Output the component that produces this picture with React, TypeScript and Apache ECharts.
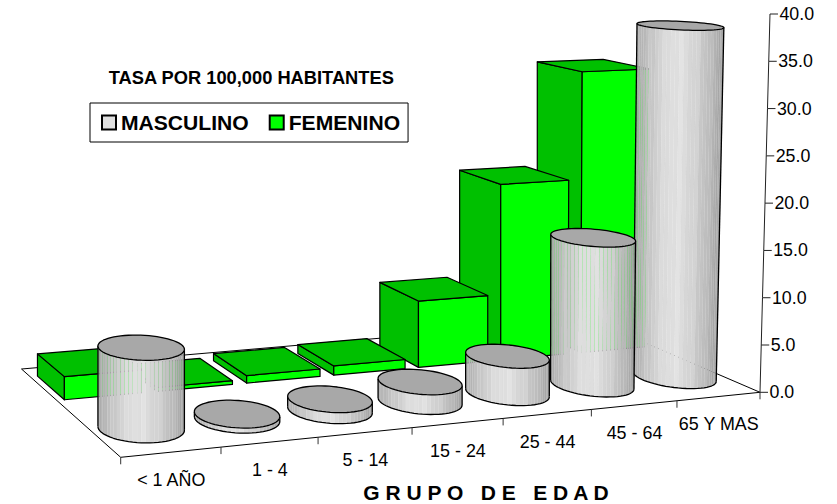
import React, { useEffect, useRef } from "react";
import * as echarts from "echarts";

const categories = ["< 1 AÑO", "1 - 4", "5 - 14", "15 - 24", "25 - 44", "45 - 64", "65 Y MAS"];
const masculino = [8.0, 0.5, 1.1, 2.0, 3.85, 15.7, 38.1];
const femenino = [2.4, 0.4, 0.8, 1.0, 7.3, 19.6, 31.8];
const tickValues = [0, 5, 10, 15, 20, 25, 30, 35, 40];
const tickLabels = ["0.0", "5.0", "10.0", "15.0", "20.0", "25.0", "30.0", "35.0", "40.0"];

const FONT = '"Liberation Sans", Arial, sans-serif';
const GRID = { left: 120.7, top: 14, width: 639.3, height: 378.3 };
// floor homography (front-left, front-right, back-left corners + perspective terms)
const F = [120.7, 457.3];
const R = [760, 392.3];
const B = [21.5, 369];
const G = 0.1165;
const H = 0.155;
const DREF = 1 + G;
const XV = 540;
const KX = 0.001136;

function floor(U: number, W: number) {
  const a = R[0] - F[0] + G * R[0];
  const b = B[0] - F[0] + H * B[0];
  const d = R[1] - F[1] + G * R[1];
  const e = B[1] - F[1] + H * B[1];
  const D = 1 + G * U + H * W;
  return { x: (a * U + b * W + F[0]) / D, y: (d * U + e * W + F[1]) / D, D };
}

function project(api: any, u: number, w: number, v: number) {
  const U = (api.coord([u, 0])[0] - GRID.left) / GRID.width;
  const base = api.coord([0, 0])[1];
  const lift = base - api.coord([0, v])[1];
  const p = floor(U, w);
  const x = p.x > XV ? XV + (p.x - XV) * (1 + KX * v) : p.x;
  return [x, p.y - (lift * DREF) / p.D];
}

const line = (pts: number[][], lineWidth = 1.1, stroke = "#000") => ({
  type: "polyline",
  shape: { points: pts },
  style: { fill: "none", stroke, lineWidth, lineJoin: "round" },
  silent: true,
});
const poly = (pts: number[][], fill: string, stroke: any = "#000", lineWidth = 1.2) => ({
  type: "polygon",
  shape: { points: pts },
  style: { fill, stroke, lineWidth, lineJoin: "round" },
  silent: true,
});

function renderFloor(_p: any, api: any) {
  const i = api.value(0);
  const kids: any[] = [];
  if (i === 0) {
    const a = project(api, 0, 0, 0);
    const b = project(api, 7, 0, 0);
    const c = project(api, 7, 1, 0);
    const d = project(api, 0, 1, 0);
    kids.push(poly([a, b, c, d], "#fff", "#000", 1));
  }
  const t = project(api, i, 0, 0);
  kids.push(line([t, [t[0], t[1] + 7]], 1, "#333"));
  if (i === 6) {
    const t2 = project(api, 7, 0, 0);
    kids.push(line([t2, [t2[0], t2[1] + 7]], 1, "#333"));
  }
  const m = project(api, i + 0.5, 0, 0);
  kids.push({
    type: "text",
    silent: true,
    style: {
      x: m[0],
      y: m[1] + 28,
      text: categories[i],
      fill: "#000",
      font: `17.9px ${FONT}`,
      align: "center",
      verticalAlign: "middle",
    },
  });
  return { type: "group", children: kids };
}

function renderAxis(_p: any, api: any) {
  const v = api.value(1);
  const i = api.value(0);
  const p = project(api, 7, 0, v);
  const kids: any[] = [line([p, [p[0] + 8, p[1]]], 1, "#222")];
  if (i < tickValues.length - 1) {
    kids.push(line([p, project(api, 7, 0, tickValues[i + 1])], 1, "#222"));
  }
  kids.push({
    type: "text",
    silent: true,
    style: {
      x: p[0] + 9.5,
      y: p[1],
      text: tickLabels[i],
      fill: "#000",
      font: `17.8px ${FONT}`,
      align: "left",
      verticalAlign: "middle",
    },
  });
  return { type: "group", children: kids };
}

function renderBar(_p: any, api: any) {
  const i = api.value(0);
  const v = api.value(1);
  const [u0, u1, w0, w1] = [i + 0.08, i + 0.92, 0.61, 0.9];
  const P = (u: number, w: number, h: number) => project(api, u, w, h);
  return {
    type: "group",
    children: [
      poly([P(u0, w1, 0), P(u0, w0, 0), P(u0, w0, v), P(u0, w1, v)], "#00C000"),
      poly([P(u0, w0, 0), P(u1, w0, 0), P(u1, w0, v), P(u0, w0, v)], "#00FF00"),
      poly([P(u0, w0, v), P(u1, w0, v), P(u1, w1, v), P(u0, w1, v)], "#00C000"),
    ],
  };
}

function renderCyl(_p: any, api: any) {
  const i = api.value(0);
  const v = api.value(1);
  const N = 64;
  const ru = 0.41 - 0.0017 * i;
  const rw = 0.15;
  const uc = i + 0.49 + 0.003 * i;
  const wc = 0.25;
  const base: number[][] = [];
  const top: number[][] = [];
  for (let k = 0; k < N; k++) {
    const t = (k / N) * Math.PI * 2;
    const u = uc + ru * Math.cos(t);
    const w = wc + rw * Math.sin(t);
    base.push(project(api, u, w, 0));
    top.push(project(api, u, w, v));
  }
  let li = 0;
  let ri = 0;
  base.forEach((p, k) => {
    if (p[0] < base[li][0]) li = k;
    if (p[0] > base[ri][0]) ri = k;
  });
  // walk from the leftmost point through the near side (sin t < 0) to the rightmost
  const arc: number[] = [];
  let k = li;
  for (let n = 0; n <= N; n++) {
    arc.push(k);
    if (k === ri) break;
    k = (k + 1) % N;
  }
  const kids: any[] = [];
  const xl = base[li][0];
  const xr = base[ri][0];
  for (let n = 0; n < arc.length - 1; n++) {
    const a = arc[n];
    const b = arc[n + 1];
    const s = (((base[a][0] + base[b][0]) / 2 - xl) / (xr - xl)) * 2 - 1;
    const wob = n % 4 === 0 ? 4 : n % 3 === 0 ? -2 : 0;
    const g = Math.round(224 - 58 * Math.pow(Math.abs(s + 0.05), 1.6) + wob);
    const c = `rgb(${g},${g},${g})`;
    kids.push({
      type: "polygon",
      shape: { points: [base[a], base[b], top[b], top[a]] },
      style: { fill: c, stroke: c, strokeOpacity: 0.55, lineWidth: 0.3 },
      silent: true,
    });
  }
  kids.push(line(arc.map((q) => base[q]), 1.3));
  kids.push(line([base[li], top[li]], 1.3));
  kids.push(line([base[ri], top[ri]], 1.3));
  kids.push(poly(top, "#A8A8A8", "#000", 1.3));
  return { type: "group", children: kids };
}

const rev = (a: number[]) => a.map((v, i) => [i, v]).reverse();

export default function App() {
  const ref = useRef<HTMLDivElement>(null);
  useEffect(() => {
    const chart = echarts.init(ref.current!, null, { renderer: "svg" });
    chart.setOption({
      animation: false,
      backgroundColor: "#fff",
      grid: GRID,
      title: [
        {
          text: "TASA POR 100,000 HABITANTES",
          left: 251.3,
          top: 77,
          textAlign: "center",
          textVerticalAlign: "middle",
          padding: 0,
          textStyle: { fontFamily: FONT, fontWeight: "bold", fontSize: 18.3, color: "#000" },
        },
        {
          text: "G R U P O   D E   E D A D",
          left: 486,
          top: 492.5,
          textAlign: "center",
          textVerticalAlign: "middle",
          padding: 0,
          textStyle: { fontFamily: FONT, fontWeight: "bold", fontSize: 21, color: "#000" },
        },
      ],
      legend: {
        left: 90,
        top: 103,
        orient: "horizontal",
        data: ["MASCULINO", "FEMENINO"],
        icon: "rect",
        itemWidth: 14,
        itemHeight: 14,
        itemGap: 20,
        padding: [9, 8, 9, 11],
        backgroundColor: "#fff",
        borderColor: "#000",
        borderWidth: 1,
        selectedMode: false,
        textStyle: { fontFamily: FONT, fontWeight: "bold", fontSize: 21.1, color: "#000" },
      },
      xAxis: { type: "value", min: 0, max: 7, show: false },
      yAxis: { type: "value", min: 0, max: 40, interval: 5, show: false },
      series: [
        {
          type: "custom",
          name: "piso",
          z: 1,
          renderItem: renderFloor,
          data: categories.map((_c, i) => [i, 0]),
        },
        {
          type: "custom",
          name: "eje",
          z: 1,
          renderItem: renderAxis,
          data: tickValues.map((v, i) => [i, v]),
        },
        {
          type: "custom",
          name: "FEMENINO",
          z: 2,
          renderItem: renderBar,
          itemStyle: { color: "#00FF00", borderColor: "#000", borderWidth: 1 },
          data: rev(femenino),
        },
        {
          type: "custom",
          name: "MASCULINO",
          z: 3,
          renderItem: renderCyl,
          itemStyle: { color: "#E0E0E0", borderColor: "#000", borderWidth: 1 },
          data: rev(masculino),
        },
      ],
    });
    return () => chart.dispose();
  }, []);
  return <div ref={ref} style={{ position: "fixed", left: 0, top: 0, width: 837, height: 504 }} />;
}
